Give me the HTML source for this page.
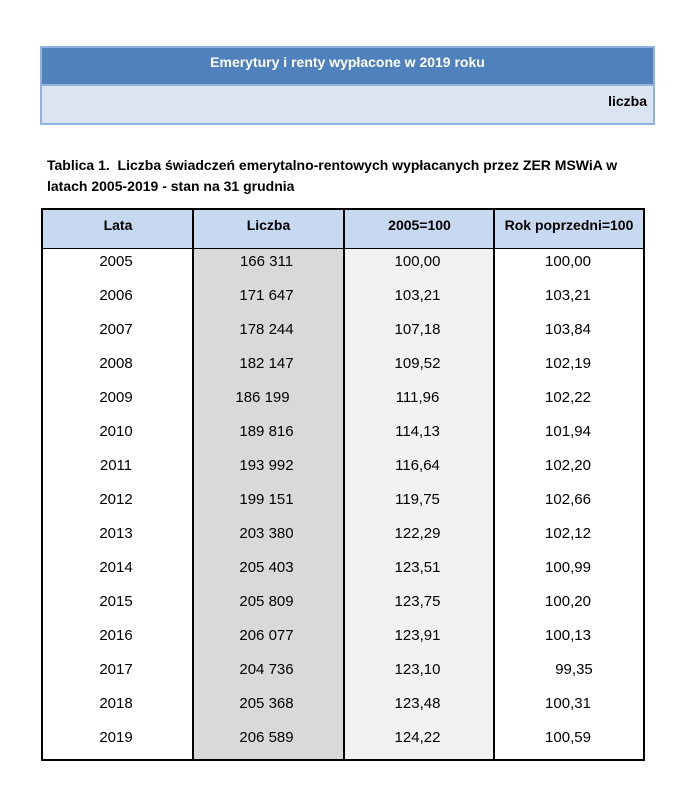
<!DOCTYPE html>
<html><head><meta charset="utf-8"><style>
*{margin:0;padding:0;box-sizing:border-box}
body{width:699px;height:802px;background:#fff;position:relative;overflow:hidden;font-family:"Liberation Sans",Arial,sans-serif;color:#000}
.abs{position:absolute}
#box{left:40px;top:46px;width:615px;height:79px;border:2px solid #8db3e2;background:#dbe5f1}
#dark{left:0;top:0;width:611px;height:38px;background:#4f81bd;border-bottom:2px solid #95b3d7}
#title{left:0;top:0;width:611px;text-align:center;line-height:28px;color:#fff;font-weight:bold;font-size:14px}
#liczba{right:6px;top:45px;font-weight:bold;font-size:14px;line-height:16px}
.cap{left:47px;font-weight:bold;font-size:14px;white-space:nowrap;line-height:16px}
#tbl{left:41px;top:208px;width:604px;height:553px;border:2px solid #000}
.col{position:absolute;top:0;height:549px}
.hd{position:absolute;top:0;height:39px;background:#c6d9f1;border-bottom:1.5px solid #000;text-align:center;font-weight:bold;font-size:14px;line-height:31px}
.vl{position:absolute;top:0;width:2px;height:549px;background:#000}
.c{position:absolute;text-align:center;font-size:15px;line-height:16px}
</style></head><body>
<div id="box" class="abs">
  <div id="dark" class="abs"><div id="title" class="abs">Emerytury i renty wypłacone w 2019 roku</div></div>
  <div id="liczba" class="abs">liczba</div>
</div>
<div class="abs cap" style="top:157px">Tablica 1.&nbsp; Liczba świadczeń emerytalno-rentowych wypłacanych przez ZER MSWiA w</div>
<div class="abs cap" style="top:178px">latach 2005-2019 - stan na 31 grudnia</div>
<div id="tbl" class="abs">
  <div class="col" style="left:150px;width:151px;background:#d9d9d9"></div>
  <div class="col" style="left:301px;width:151px;background:#f2f2f2"></div>
  <div class="hd" style="left:0;width:600px"></div>
  <div class="hd" style="left:0;width:150px;border:none;background:none">Lata</div>
  <div class="hd" style="left:150px;width:151px;border:none;background:none">Liczba</div>
  <div class="hd" style="left:301px;width:151px;border:none;background:none">2005=100</div>
  <div class="hd" style="left:452px;width:148px;border:none;background:none">Rok poprzedni=100</div>
  <div class="vl" style="left:149px"></div>
  <div class="vl" style="left:300px"></div>
  <div class="vl" style="left:450px"></div>
</div>
<div id="data" style="position:absolute;left:41px;top:210px">
<div class="c" style="left:0;width:150px;top:44px">2005</div><div class="c" style="left:150px;width:151px;top:44px">166 311</div><div class="c" style="left:301px;width:151px;top:44px">100,00</div><div class="c" style="left:452px;width:150px;top:44px">100,00</div>
<div class="c" style="left:0;width:150px;top:78px">2006</div><div class="c" style="left:150px;width:151px;top:78px">171 647</div><div class="c" style="left:301px;width:151px;top:78px">103,21</div><div class="c" style="left:452px;width:150px;top:78px">103,21</div>
<div class="c" style="left:0;width:150px;top:112px">2007</div><div class="c" style="left:150px;width:151px;top:112px">178 244</div><div class="c" style="left:301px;width:151px;top:112px">107,18</div><div class="c" style="left:452px;width:150px;top:112px">103,84</div>
<div class="c" style="left:0;width:150px;top:146px">2008</div><div class="c" style="left:150px;width:151px;top:146px">182 147</div><div class="c" style="left:301px;width:151px;top:146px">109,52</div><div class="c" style="left:452px;width:150px;top:146px">102,19</div>
<div class="c" style="left:0;width:150px;top:180px">2009</div><div class="c" style="left:146px;width:151px;top:180px">186 199</div><div class="c" style="left:301px;width:151px;top:180px">111,96</div><div class="c" style="left:452px;width:150px;top:180px">102,22</div>
<div class="c" style="left:0;width:150px;top:214px">2010</div><div class="c" style="left:150px;width:151px;top:214px">189 816</div><div class="c" style="left:301px;width:151px;top:214px">114,13</div><div class="c" style="left:452px;width:150px;top:214px">101,94</div>
<div class="c" style="left:0;width:150px;top:248px">2011</div><div class="c" style="left:150px;width:151px;top:248px">193 992</div><div class="c" style="left:301px;width:151px;top:248px">116,64</div><div class="c" style="left:452px;width:150px;top:248px">102,20</div>
<div class="c" style="left:0;width:150px;top:282px">2012</div><div class="c" style="left:150px;width:151px;top:282px">199 151</div><div class="c" style="left:301px;width:151px;top:282px">119,75</div><div class="c" style="left:452px;width:150px;top:282px">102,66</div>
<div class="c" style="left:0;width:150px;top:316px">2013</div><div class="c" style="left:150px;width:151px;top:316px">203 380</div><div class="c" style="left:301px;width:151px;top:316px">122,29</div><div class="c" style="left:452px;width:150px;top:316px">102,12</div>
<div class="c" style="left:0;width:150px;top:350px">2014</div><div class="c" style="left:150px;width:151px;top:350px">205 403</div><div class="c" style="left:301px;width:151px;top:350px">123,51</div><div class="c" style="left:452px;width:150px;top:350px">100,99</div>
<div class="c" style="left:0;width:150px;top:384px">2015</div><div class="c" style="left:150px;width:151px;top:384px">205 809</div><div class="c" style="left:301px;width:151px;top:384px">123,75</div><div class="c" style="left:452px;width:150px;top:384px">100,20</div>
<div class="c" style="left:0;width:150px;top:418px">2016</div><div class="c" style="left:150px;width:151px;top:418px">206 077</div><div class="c" style="left:301px;width:151px;top:418px">123,91</div><div class="c" style="left:452px;width:150px;top:418px">100,13</div>
<div class="c" style="left:0;width:150px;top:452px">2017</div><div class="c" style="left:150px;width:151px;top:452px">204 736</div><div class="c" style="left:301px;width:151px;top:452px">123,10</div><div class="c" style="left:458px;width:150px;top:452px">99,35</div>
<div class="c" style="left:0;width:150px;top:486px">2018</div><div class="c" style="left:150px;width:151px;top:486px">205 368</div><div class="c" style="left:301px;width:151px;top:486px">123,48</div><div class="c" style="left:452px;width:150px;top:486px">100,31</div>
<div class="c" style="left:0;width:150px;top:520px">2019</div><div class="c" style="left:150px;width:151px;top:520px">206 589</div><div class="c" style="left:301px;width:151px;top:520px">124,22</div><div class="c" style="left:452px;width:150px;top:520px">100,59</div>
</div>
</body></html>
